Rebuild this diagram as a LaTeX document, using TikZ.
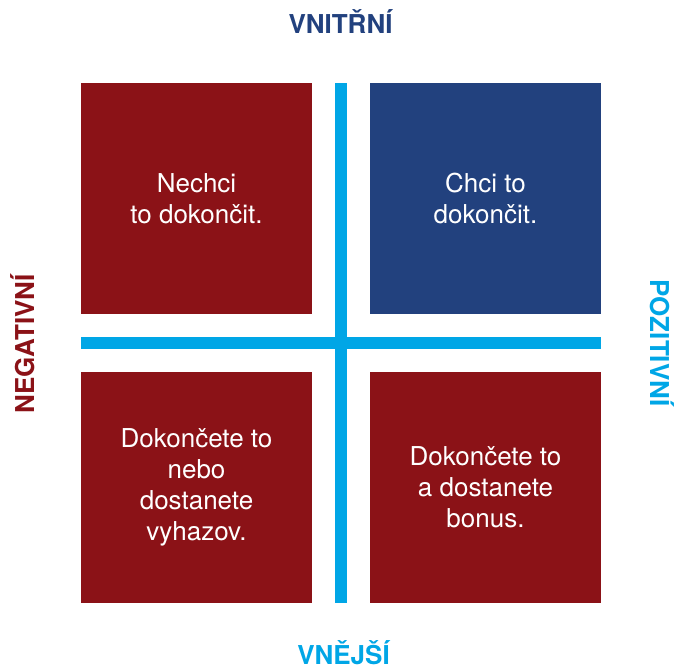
\documentclass[tikz,border=0pt]{standalone}
\usepackage{fontspec}
\setmainfont{TeX Gyre Heros}
\definecolor{qred}{HTML}{8B1217}
\definecolor{qblue}{HTML}{22417E}
\definecolor{qlight}{HTML}{00A6E6}
\begin{document}
\begin{tikzpicture}[x=1pt,y=1pt,
  quad/.style={minimum width=231pt,minimum height=231pt,inner sep=0pt,
    text=white,align=center,font=\fontsize{26}{31}\selectfont},
  bar/.style={fill=qlight,draw=none,inner sep=0pt},
  axislabel/.style={font=\fontsize{26}{30}\selectfont\bfseries,inner sep=0pt}]
\useasboundingbox (0,0) rectangle (674,671);
\node[quad,fill=qred] (tl) at (196.5,472.5) {Nechci\\to dokončit.};
\node[quad,fill=qblue] (tr) at (485.5,472.5) {Chci to\\dokončit.};
\node[quad,fill=qred] (bl) at (196.5,183.5) {Dokončete to\\nebo\\dostanete\\vyhazov.};
\node[quad,fill=qred] (br) at (485.5,183.5) {Dokončete to\\a dostanete\\bonus.};
\node[bar,minimum width=12pt,minimum height=520pt] (vbar) at (341,328) {};
\node[bar,minimum width=520pt,minimum height=12pt] (hbar) at (341,328) {};
\node[axislabel,text=qblue,anchor=base] (top) at (340.5,637) {VNITŘNÍ};
\node[axislabel,text=qlight,anchor=base] (bottom) at (343.5,6) {VNĚJŠÍ};
\node[axislabel,text=qred,anchor=base,rotate=90] (left) at (34,327) {NEGATIVNÍ};
\node[axislabel,text=qlight,anchor=base,rotate=-90] (right) at (650,328) {POZITIVNÍ};
\end{tikzpicture}
\end{document}
